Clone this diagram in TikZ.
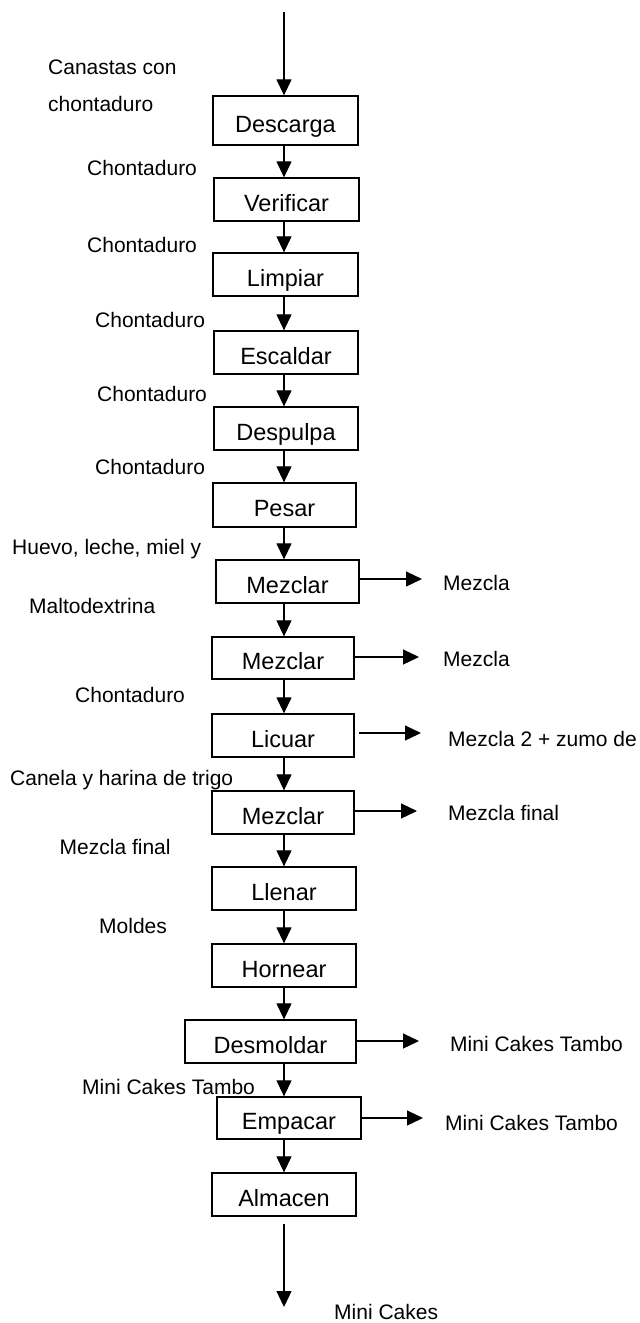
\documentclass[tikz,border=0pt]{standalone}
\usepackage{fontspec}
\setmainfont{Liberation Sans}
\usetikzlibrary{arrows.meta}
\begin{document}
\begin{tikzpicture}[x=1pt,y=-1pt,
  box/.style={draw,line width=1.3pt,rectangle,inner sep=0pt,
    font=\fontsize{23.5}{26}\selectfont,text height=28.5pt,text depth=5pt},
  lab/.style={anchor=west,inner sep=0pt,font=\fontsize{21}{24}\selectfont,
    text height=20pt,text depth=5pt},
  arr/.style={line width=1.2pt,-{Triangle[length=16pt,width=15pt]}}]
\useasboundingbox (0,0) rectangle (640,1323);
\coordinate (col) at (284,0);
\coordinate (top) at (284,12);
% boxes
\node[box,minimum width=145pt,minimum height=49pt] (n1) at (285.5,120.5) {Descarga};
\node[box,minimum width=145pt,minimum height=43pt] (n2) at (286.5,199.5) {Verificar};
\node[box,minimum width=145pt,minimum height=43pt] (n3) at (285.5,274.5) {Limpiar};
\node[box,minimum width=144pt,minimum height=43pt] (n4) at (286,352.5) {Escaldar};
\node[box,minimum width=144pt,minimum height=43pt] (n5) at (286,428.5) {Despulpa};
\node[box,minimum width=143pt,minimum height=44pt] (n6) at (284.5,505) {Pesar};
\node[box,minimum width=143pt,minimum height=43pt] (n7) at (287.5,581.5) {Mezclar};
\node[box,minimum width=142pt,minimum height=42pt] (n8) at (283,658) {Mezclar};
\node[box,minimum width=142pt,minimum height=43pt] (n9) at (283,735.5) {Licuar};
\node[box,minimum width=142pt,minimum height=43pt] (n10) at (283,812.5) {Mezclar};
\node[box,minimum width=144pt,minimum height=43pt] (n11) at (284,888.5) {Llenar};
\node[box,minimum width=144pt,minimum height=43pt] (n12) at (284,965.5) {Hornear};
\node[box,minimum width=171pt,minimum height=43pt] (n13) at (270.5,1041.5) {Desmoldar};
\node[box,minimum width=144pt,minimum height=42pt] (n14) at (289,1118) {Empacar};
\node[box,minimum width=144pt,minimum height=43pt] (n15) at (284,1194.5) {Almacen};
% vertical arrows
\draw[arr] (top) -- (n1.north -| col);
\draw[arr] (n1.south -| col) -- (n2.north -| col);
\draw[arr] (n2.south -| col) -- (n3.north -| col);
\draw[arr] (n3.south -| col) -- (n4.north -| col);
\draw[arr] (n4.south -| col) -- (n5.north -| col);
\draw[arr] (n5.south -| col) -- (n6.north -| col);
\draw[arr] (n6.south -| col) -- (n7.north -| col);
\draw[arr] (n7.south -| col) -- (n8.north -| col);
\draw[arr] (n8.south -| col) -- (n9.north -| col);
\draw[arr] (n9.south -| col) -- (n10.north -| col);
\draw[arr] (n10.south -| col) -- (n11.north -| col);
\draw[arr] (n11.south -| col) -- (n12.north -| col);
\draw[arr] (n12.south -| col) -- (n13.north -| col);
\draw[arr] (n13.south -| col) -- (n14.north -| col);
\draw[arr] (n14.south -| col) -- (n15.north -| col);
\coordinate (endtip) at (284,1307);
\draw[arr] ([yshift=-7pt]n15.south -| col) -- (endtip);
% side arrows
\coordinate (o1) at (422,579);
\coordinate (o2) at (419,657);
\coordinate (o3) at (421,733);
\coordinate (o4) at (417,811);
\coordinate (o5) at (419,1041);
\coordinate (o6) at (423,1118);
\draw[arr] (n7.east |- o1) -- (o1);
\draw[arr] (n8.east |- o2) -- (o2);
\draw[arr] ([xshift=4pt]n9.east |- o3) -- (o3);
\draw[arr] (n10.east |- o4) -- (o4);
\draw[arr] (n13.east |- o5) -- (o5);
\draw[arr] (n14.east |- o6) -- (o6);
% right labels
\node[lab] (r1) at (443,583) {Mezcla};
\node[lab] (r2) at (443,659) {Mezcla};
\node[lab] (r3) at (448,739) {Mezcla 2 + zumo de};
\node[lab] (r4) at (448,813) {Mezcla final};
\node[lab] (r5) at (450,1044) {Mini Cakes Tambo};
\node[lab] (r6) at (445,1123) {Mini Cakes Tambo};
\node[lab] (r7) at (334,1312) {Mini Cakes};
% left labels
\node[lab] (l1) at (48,67) {Canastas con};
\node[lab] (l2) at (48,104) {chontaduro};
\node[lab] (l3) at (87,168) {Chontaduro};
\node[lab] (l4) at (87,245) {Chontaduro};
\node[lab] (l5) at (95,320) {Chontaduro};
\node[lab] (l6) at (97,394) {Chontaduro};
\node[lab] (l7) at (95,467) {Chontaduro};
\node[lab] (l8) at (12,547) {Huevo, leche, miel y};
\node[lab] (l9) at (29,606) {Maltodextrina};
\node[lab] (l10) at (75,695) {Chontaduro};
\node[lab] (l11) at (10,778) {Canela y harina de trigo};
\node[lab] (l12) at (59.5,847) {Mezcla final};
\node[lab] (l13) at (99,926) {Moldes};
\node[lab] (l14) at (82,1087) {Mini Cakes Tambo};
\end{tikzpicture}
\end{document}
